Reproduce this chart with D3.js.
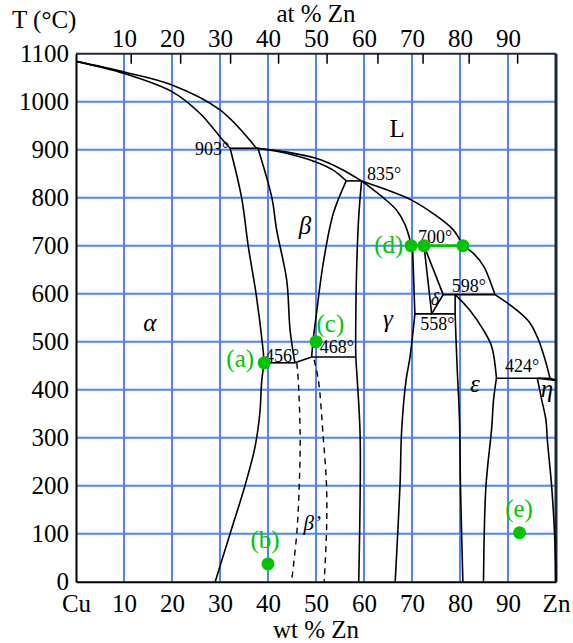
<!DOCTYPE html>
<html>
<head>
<meta charset="utf-8">
<script src="https://cdn.jsdelivr.net/npm/d3@7"></script>
<style>
  body { margin: 0; background: #fff; }
  text { font-family: "Liberation Serif", "Times New Roman", serif; }
</style>
</head>
<body>
<script>
// Cu-Zn phase diagram, boundaries as [wt % Zn, T °C]
const wtTicks = [0, 10, 20, 30, 40, 50, 60, 70, 80, 90, 100];
const tempTicks = [0, 100, 200, 300, 400, 500, 600, 700, 800, 900, 1000, 1100];
const atLabels = [10, 20, 30, 40, 50, 60, 70, 80, 90];
const atTickWt = [11.4, 21.7, 32.1, 42.1, 52.2, 62.8, 72.2, 81.8, 91.9];

const liquidusA = [[0, 1084], [10, 1062], [20, 1035], [30, 983], [37.6, 903]];
const liquidusB = [[37.6, 903], [44, 895], [50, 882], [55, 861], [59.5, 835]];
const liquidusC = [[59.5, 835], [64, 819], [69.9, 795], [74.4, 767], [78.6, 733], [80.6, 700]];
const liquidusD = [[80.6, 700], [83, 682], [85, 656], [86.5, 620], [87.3, 598]];
const liquidusE = [[87.3, 598], [91.8, 566], [94.5, 540], [96.3, 505], [97.8, 460], [98.75, 424]];
const liquidusF = [[98.75, 424], [100, 419.5]];

const alphaSolidus = [[0, 1084], [10, 1059], [20, 1021], [25.8, 976], [30, 927], [32.1, 903]];
const alphaSolvusHigh = [[32.1, 903], [34.5, 800], [35.9, 698], [37.6, 594], [38.9, 490], [39.2, 456]];
const alphaSolvusLow = [[39.2, 456], [38.7, 419], [38.3, 351], [37.3, 281], [35.2, 200], [32.1, 100], [29, 0]];
const betaSolidus = [[37.9, 903], [44, 892], [49.8, 875], [53.5, 858], [56.3, 835]];
const betaLeft = [[37.9, 903], [40.8, 800], [41.8, 733], [43.9, 628], [44.6, 524], [45.6, 456]];
const betaRight = [[56.3, 835], [53.6, 767], [51.5, 663], [50.1, 559], [49.4, 503], [49.1, 468]];
const betaStep = [[45.6, 456], [49.1, 468]];
const gammaLeft = [[59.5, 835], [58.9, 760], [58.5, 663], [58.3, 558], [58.3, 468], [58.6, 420], [59.2, 302], [58.9, 0]];
const gammaSolidus = [[59.5, 835], [64, 800], [66.8, 774], [68.5, 745], [69.5, 715], [69.8, 700]];
const gammaRightHigh = [[70.1, 700], [70.6, 558]];
const gammaRightLow = [[70.6, 558], [69.6, 469], [68.75, 419], [67.85, 316], [67.5, 200], [66.5, 0]];
const deltaLeft = [[72.5, 700], [74.1, 558]];
const deltaTop = [[72.5, 700], [76.5, 598]];
const deltaBottom = [[76.5, 598], [74.1, 558]];
const epsLeft = [[79, 598], [79, 558], [79.4, 448], [79.9, 337], [80.1, 198], [80.6, 0]];
const epsSolidus = [[79, 598], [82, 566], [84.9, 524], [86.6, 490], [87.6, 424]];
const epsRight = [[87.6, 424], [87.0, 380], [86.6, 320], [85.4, 198], [84.9, 0]];
const etaLeft = [[96.1, 424], [97.0, 380], [97.9, 337], [98.2, 295], [99.1, 198], [99.7, 100], [100, 0]];
const etaTop = [[96.1, 424], [100, 419.5]];
const betaPrimeLeft = [[46.0, 456], [46.3, 420], [46.7, 302], [46.5, 198], [46.0, 101], [44.9, 0]];
const betaPrimeRight = [[49.6, 462], [50.5, 420], [51.5, 302], [52.2, 198], [52.2, 108], [51.7, 0]];

// isotherms: [T, from wt, to wt]
const isotherms = [[903, 32.1, 37.9], [835, 56.3, 59.5], [700, 69.8, 80.6], [598, 76.5, 87.3],
  [558, 70.6, 79], [456, 39.2, 45.6], [468, 49.1, 58.3], [424, 87.6, 98.75]];

// [text, wt, T]
const phaseLabels = [["α", 15.4, 541], ["β", 47.7, 743], ["L", 66.9, 945], ["γ", 65, 549],
  ["δ", 74.8, 590], ["ε", 83.1, 413], ["η", 98.1, 404], ["β’", 49.2, 124]];
const tempLabels = [["903°", 24.8, 889], ["835°", 60.6, 837], ["456°", 39.4, 458], ["468°", 50.8, 476],
  ["700°", 71.25, 705], ["598°", 78.3, 604], ["558°", 71.7, 524], ["424°", 89.4, 437]];

const pointNames = ["a", "b", "c", "d", "d", "d", "e"];
const pointWt = [39.2, 40, 50, 69.8, 72.5, 80.6, 92.4];
const pointT = [456, 37, 500, 700, 700, 700, 102];
// [text, wt, T, anchor]
const pointLabels = [["(a)", 37.1, 447, "end"], ["(b)", 39.4, 70, "middle"], ["(c)", 50.1, 521, "start"],
  ["(d)", 68.2, 685, "end"], ["(e)", 92.3, 134, "middle"]];

const margin = {top: 53.7, right: 17, bottom: 61.3, left: 76};
const width = 480, height = 528;
const green = "#00c400";
const gridBlue = "#4f84f5";
const frame = "#1d2540";
const serif = "'Liberation Serif', 'Times New Roman', serif";

const svg = d3.select("body").append("svg")
  .attr("width", 573)
  .attr("height", 643)
  .attr("font-family", serif);
const g = svg.append("g")
  .attr("transform", `translate(${margin.left},${margin.top})`);

const x = d3.scaleLinear().domain([0, 100]).range([0, width]);
const y = d3.scaleLinear().domain([0, 1100]).range([height, 0]);

// grid
g.append("g").selectAll("line")
  .data(wtTicks.slice(1, -1))
  .enter().append("line")
  .attr("x1", d => x(d)).attr("x2", d => x(d))
  .attr("y1", 0).attr("y2", height)
  .attr("stroke", gridBlue).attr("stroke-width", 2);
g.append("g").selectAll("line")
  .data(tempTicks.slice(1, -1))
  .enter().append("line")
  .attr("x1", 0).attr("x2", width)
  .attr("y1", d => y(d)).attr("y2", d => y(d))
  .attr("stroke", gridBlue).attr("stroke-width", 2);

// frame top / right
g.append("line").attr("x1", 0).attr("x2", width).attr("y1", 0).attr("y2", 0)
  .attr("stroke", frame).attr("stroke-width", 2);
g.append("line").attr("x1", width).attr("x2", width).attr("y1", 0).attr("y2", height)
  .attr("stroke", frame).attr("stroke-width", 3);

// axes
const xAxis = g.append("g")
  .attr("transform", `translate(0,${height})`)
  .call(d3.axisBottom(x).tickValues(wtTicks).tickSize(0).tickPadding(13)
    .tickFormat(d => d === 0 ? "Cu" : d === 100 ? "Zn" : d));
const yAxis = g.append("g")
  .call(d3.axisLeft(y).tickValues(tempTicks).tickSize(0).tickPadding(7)
    .tickFormat(d3.format("d")));
const topLabels = g.append("g")
  .call(d3.axisTop(x).tickValues(atLabels).tickSize(0).tickPadding(7)
    .tickFormat(d3.format("d")));
topLabels.select(".domain").remove();

[xAxis, yAxis, topLabels].forEach(a => {
  a.attr("font-family", serif);
  a.select(".domain").attr("stroke", "#000").attr("stroke-width", 2);
  a.selectAll("text").style("font-size", "25px").attr("fill", "#000")
    .style("font-family", serif);
});

const topTicks = g.append("g")
  .call(d3.axisTop(x).tickValues(atTickWt).tickSize(-10).tickFormat(""));
topTicks.select(".domain").remove();
topTicks.selectAll("line").attr("stroke", "#000").attr("stroke-width", 1.5);

// phase boundaries
const line = d3.line()
  .x(d => x(d[0]))
  .y(d => y(d[1]))
  .curve(d3.curveCatmullRom.alpha(0.5));

const solid = [liquidusA, liquidusB, liquidusC, liquidusD, liquidusE, liquidusF,
  alphaSolidus, alphaSolvusHigh, alphaSolvusLow, betaSolidus, betaLeft, betaRight, betaStep,
  gammaLeft, gammaSolidus, gammaRightHigh, gammaRightLow, deltaLeft, deltaTop, deltaBottom,
  epsLeft, epsSolidus, epsRight, etaLeft, etaTop];

g.append("g").selectAll("path")
  .data(solid)
  .enter().append("path")
  .attr("d", line)
  .attr("fill", "none")
  .attr("stroke", "#000")
  .attr("stroke-width", 1.6);

g.append("g").selectAll("path")
  .data([betaPrimeLeft, betaPrimeRight])
  .enter().append("path")
  .attr("d", line)
  .attr("fill", "none")
  .attr("stroke", "#000")
  .attr("stroke-width", 1.4)
  .attr("stroke-dasharray", "6,5");

g.append("g").selectAll("line")
  .data(isotherms)
  .enter().append("line")
  .attr("x1", d => x(d[1])).attr("x2", d => x(d[2]))
  .attr("y1", d => y(d[0])).attr("y2", d => y(d[0]))
  .attr("stroke", "#000").attr("stroke-width", 1.6);

// labels
g.append("g").selectAll("text")
  .data(phaseLabels)
  .enter().append("text")
  .attr("x", d => x(d[1]))
  .attr("y", d => y(d[2]))
  .attr("text-anchor", "middle")
  .attr("dy", "0.35em")
  .style("font-style", d => d[0] === "L" ? "normal" : "italic")
  .style("font-size", d => d[0] === "δ" ? "18px" : d[0] === "β’" ? "21px" : "25px")
  .text(d => d[0]);

g.append("g").selectAll("text")
  .data(tempLabels)
  .enter().append("text")
  .attr("x", d => x(d[1]))
  .attr("y", d => y(d[2]))
  .style("font-size", "18px")
  .text(d => d[0]);

// marked points
g.append("line")
  .attr("x1", x(pointWt[3])).attr("x2", x(pointWt[5]))
  .attr("y1", y(pointT[3])).attr("y2", y(pointT[5]))
  .attr("stroke", green).attr("stroke-width", 3);

g.append("g").selectAll("circle")
  .data(pointNames)
  .enter().append("circle")
  .attr("cx", (d, i) => x(pointWt[i]))
  .attr("cy", (d, i) => y(pointT[i]))
  .attr("r", 6.5)
  .attr("fill", green);

g.append("g").selectAll("text")
  .data(pointLabels)
  .enter().append("text")
  .attr("x", d => x(d[1]))
  .attr("y", d => y(d[2]))
  .attr("text-anchor", d => d[3])
  .attr("fill", green)
  .style("font-size", "25px")
  .text(d => d[0]);

// axis titles
svg.append("text").attr("x", 12).attr("y", 28).style("font-size", "25px").text("T (°C)");
svg.append("text").attr("x", 316).attr("y", 22).attr("text-anchor", "middle")
  .style("font-size", "25px").text("at % Zn");
svg.append("text").attr("x", 316).attr("y", 638).attr("text-anchor", "middle")
  .style("font-size", "25px").text("wt % Zn");
</script>
</body>
</html>
